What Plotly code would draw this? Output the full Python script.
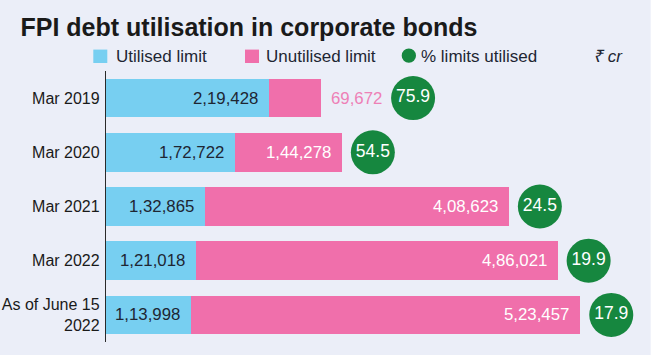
import plotly.graph_objects as go

# ---------------- data ----------------
periods = ["Mar 2019", "Mar 2020", "Mar 2021", "Mar 2022", "As of June 15<br>2022"]
utilised = [219428, 172722, 132865, 121018, 113998]
unutilised = [69672, 144278, 408623, 486021, 523457]
pct_utilised = [75.9, 54.5, 24.5, 19.9, 17.9]
legend_names = ["Utilised limit", "Unutilised limit", "% limits utilised"]
unit_label = "₹ cr"
title_text = "FPI debt utilisation in corporate bonds"


def inr(v):
    s = str(int(v))
    if len(s) <= 3:
        return s
    head, tail = s[:-3], s[-3:]
    groups = []
    while len(head) > 2:
        groups.insert(0, head[-2:])
        head = head[:-2]
    if head:
        groups.insert(0, head)
    return ",".join(groups) + "," + tail


# ---------------- geometry / style ----------------
W, H = 660, 355
ML, MR, MT, MB = 106, 0, 70.7, 13.4
PW = W - ML - MR
PH = H - MT - MB
UPP = 1344.1                      # data units per pixel
XMAX = PW * UPP

BG = "#ebeef8"
BLUE = "#77cff1"
PINK = "#f06fab"
GREEN = "#16873f"
DARK = "#1e2633"
FONT = "Liberation Sans, Arial, sans-serif"


def px(x):
    return (x - ML) / PW


def py(y):
    return (MT + PH - y) / PH


fig = go.Figure()
fig.add_trace(go.Bar(y=periods, x=utilised, orientation="h", name=legend_names[0],
                     marker=dict(color=BLUE, line=dict(width=0)), showlegend=False,
                     hoverinfo="x+y"))
fig.add_trace(go.Bar(y=periods, x=unutilised, orientation="h", name=legend_names[1],
                     marker=dict(color=PINK, line=dict(width=0)), showlegend=False,
                     hoverinfo="x+y"))

annotations = []
circle_x = []
for p, u, n in zip(periods, utilised, unutilised):
    total = u + n
    annotations.append(dict(x=u, y=p, xref="x", yref="y", text=inr(u), showarrow=False,
                            xanchor="right", yanchor="middle", xshift=-9,
                            font=dict(family=FONT, size=16.8, color=DARK)))
    if n / UPP < 72:
        annotations.append(dict(x=total, y=p, xref="x", yref="y", text=inr(n), showarrow=False,
                                xanchor="left", yanchor="middle", xshift=8,
                                font=dict(family=FONT, size=16.8, color="#ee80b6")))
        circle_x.append(total + 92 * UPP)
    else:
        annotations.append(dict(x=total, y=p, xref="x", yref="y", text=inr(n), showarrow=False,
                                xanchor="right", yanchor="middle", xshift=-9,
                                font=dict(family=FONT, size=16.8, color="white")))
        circle_x.append(total + 31 * UPP)

fig.add_trace(go.Scatter(x=circle_x, y=periods, mode="markers+text", name=legend_names[2],
                         marker=dict(size=44, color=GREEN, line=dict(width=0)),
                         text=[f"{v:.1f}" for v in pct_utilised], textposition="middle center",
                         textfont=dict(family=FONT, size=17.5, color="white"),
                         showlegend=False, cliponaxis=False, hoverinfo="text"))

# manual legend
shapes = [
    dict(type="rect", xref="paper", yref="paper", x0=px(93.3), x1=px(107.3),
         y0=py(62.7), y1=py(49.3), fillcolor=BLUE, line=dict(width=0)),
    dict(type="rect", xref="paper", yref="paper", x0=px(245), x1=px(259),
         y0=py(62.7), y1=py(49.3), fillcolor=PINK, line=dict(width=0)),
    dict(type="circle", xref="paper", yref="paper", x0=px(401.7), x1=px(416),
         y0=py(62.5), y1=py(48.2), fillcolor=GREEN, line=dict(width=0)),
    # white strip on the right edge
    dict(type="rect", xref="paper", yref="paper", x0=px(650.7), x1=1.02,
         y0=-0.2, y1=1.4, fillcolor="white", line=dict(width=0), layer="below"),
]
for txt, xl in zip(legend_names, [113.5, 264, 419]):
    annotations.append(dict(x=px(xl), y=py(56.5), xref="paper", yref="paper", text=txt,
                            showarrow=False, xanchor="left", yanchor="middle",
                            font=dict(family=FONT, size=17, color=DARK)))
annotations.append(dict(x=px(591), y=py(56.5), xref="paper", yref="paper",
                        text=f"<i>{unit_label}</i>", showarrow=False, xanchor="left",
                        yanchor="middle", font=dict(family=FONT, size=17, color=DARK)))

fig.update_layout(
    width=W, height=H,
    margin=dict(l=ML, r=MR, t=MT, b=MB, pad=0, autoexpand=False),
    paper_bgcolor=BG, plot_bgcolor="rgba(0,0,0,0)",
    barmode="stack", bargap=0.286,
    showlegend=False,
    title=dict(text=f"<b>{title_text}</b>", xref="container", yref="container",
               x=20.5 / W, xanchor="left", y=1 - 27 / H, yanchor="middle", automargin=False,
               font=dict(family=FONT, size=25, color="#1a1a1a")),
    xaxis=dict(range=[0, XMAX], visible=False, fixedrange=True, automargin=False),
    yaxis=dict(range=[len(periods) - 0.5, -0.5], showline=True, linecolor="#2a2a2a",
               linewidth=1.3, ticks="", showgrid=False, zeroline=False, ticklabelstandoff=2,
               automargin=False,
               tickfont=dict(family=FONT, size=16, color="#1a1a1a"), fixedrange=True),
    shapes=shapes, annotations=annotations,
)

fig.write_html("out.html", config={"displayModeBar": False},
               post_script="document.body.style.margin='0';")
